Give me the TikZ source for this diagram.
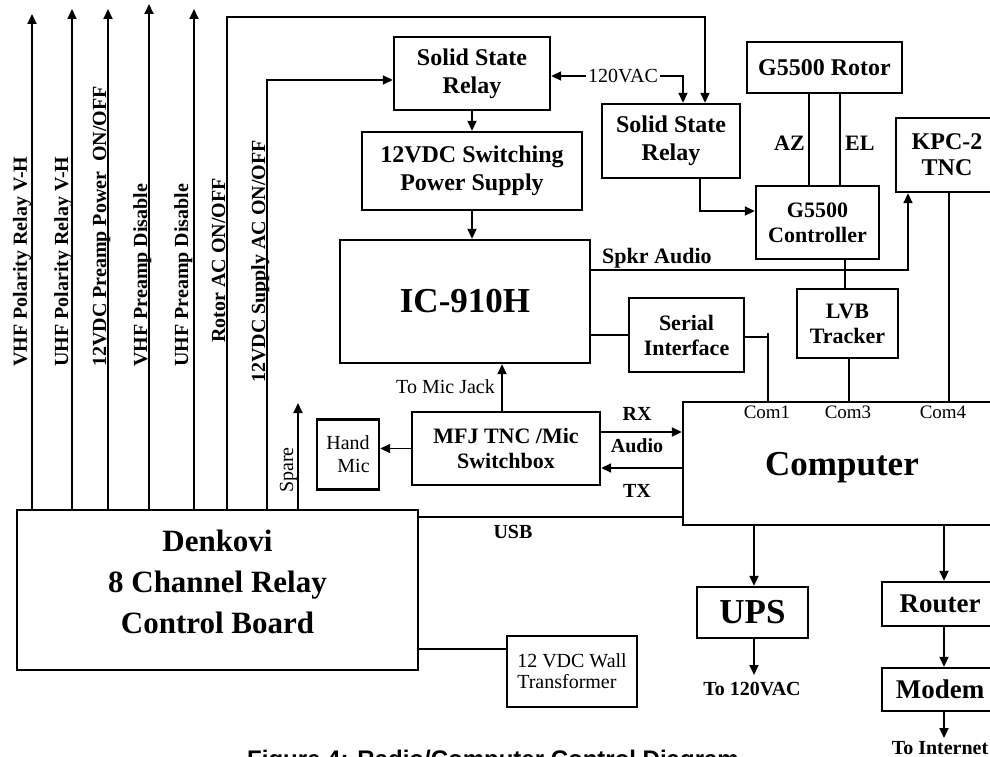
\documentclass[tikz,border=0pt]{standalone}
\usepackage{fontspec}
\setmainfont{Liberation Serif}
\newfontfamily\capfont{Liberation Sans}
\usetikzlibrary{arrows.meta}
\newcommand{\pxfont}[2]{\fontsize{#1}{#2}\selectfont}

\tikzset{
  blk/.style={draw, line width=2.4pt, inner sep=0pt, align=center, font=\bfseries\pxfont{22}{25}},
  wire/.style={line width=1.8pt},
  arr/.style={wire, -{Triangle[length=10pt,width=9pt]}},
  lbl/.style={inner sep=0pt, font=\bfseries\pxfont{20}{24}},
  txt/.style={inner sep=0pt, font=\pxfont{20}{23}},
  side/.style={lbl, rotate=90, anchor=base west},
}

\begin{document}
\begin{tikzpicture}[x=1pt, y=-1pt]
    \path[use as bounding box, fill=white] (0,0) rectangle (990,757);

    % boxes
    \node[blk, minimum width=401pt, minimum height=160pt, text depth=16pt, font=\bfseries\pxfont{31}{41}] (den) at (217.5,590) {Denkovi\\8 Channel Relay\\Control Board};
    \node[blk, minimum width=156pt, minimum height=73pt, font=\bfseries\pxfont{24}{28}] (ssrA) at (472,73.5) {Solid State\\Relay};
    \node[blk, minimum width=220pt, minimum height=78pt, font=\bfseries\pxfont{24}{28}] (psu) at (472,171) {12VDC Switching\\Power Supply};
    \node[blk, minimum width=250pt, minimum height=123pt, font=\bfseries\pxfont{35}{40}] (ic) at (465,301.5) {IC-910H};
    \node[blk, minimum width=138pt, minimum height=74pt, font=\bfseries\pxfont{24}{28}] (ssrB) at (671,141) {Solid State\\Relay};
    \node[blk, minimum width=155pt, minimum height=51pt, font=\bfseries\pxfont{24}{28}] (rotor) at (824.5,67.5) {G5500 Rotor};
    \node[blk, minimum width=123pt, minimum height=73pt] (ctrl) at (817.5,222.5) {G5500\\Controller};
    \node[blk, minimum width=102pt, minimum height=74pt, font=\bfseries\pxfont{24}{26}] (kpc) at (947,155) {KPC-2\\TNC};
    \node[blk, minimum width=115pt, minimum height=74pt] (serial) at (686.5,335) {Serial\\Interface};
    \node[blk, minimum width=101pt, minimum height=69pt] (lvb) at (847.5,323.5) {LVB\\Tracker};
    \node[blk, minimum width=188pt, minimum height=73pt] (mfj) at (506,448.5) {MFJ TNC /Mic\\Switchbox};
    \node[blk, minimum width=62pt, minimum height=70pt, align=right, font=\pxfont{20}{23}] (hand) at (348,454.5) {Hand\\Mic};
    \node[blk, minimum width=318pt, minimum height=123pt, text depth=0pt, font=\bfseries\pxfont{35}{40}] (comp) at (842,463.5) {Computer};
    \node[blk, minimum width=111pt, minimum height=51pt, font=\bfseries\pxfont{35}{40}] (ups) at (752.5,612.5) {UPS};
    \node[blk, minimum width=116pt, minimum height=44pt, font=\bfseries\pxfont{27}{30}] (router) at (940,604) {Router};
    \node[blk, minimum width=116pt, minimum height=43pt, font=\bfseries\pxfont{27}{30}] (modem) at (940,689.5) {Modem};
    \node[blk, minimum width=130pt, minimum height=71pt, align=left, font=\pxfont{20}{21}] (xfmr) at (572,671.5) {12 VDC Wall\\Transformer};

    % relay board outputs
    \node[side] (lVpol) at (27,367) {VHF Polarity Relay V-H};
    \node[side] (lUpol) at (68,367) {UHF Polarity Relay V-H};
    \node[side] (lPre) at (106,367) {12VDC Preamp Power\ \ ON/OFF};
    \node[side] (lVdis) at (147,367) {VHF Preamp Disable};
    \node[side] (lUdis) at (188,367) {UHF Preamp Disable};
    \node[side] (lRot) at (225,343) {Rotor AC ON/OFF};
    \node[side] (lSup) at (265,383) {12VDC Supply AC ON/OFF};
    \node[txt, rotate=90, anchor=base west] (lSpare) at (293,493) {Spare};
    \foreach \n/\x/\y in {tVpol/32/14, tUpol/72/9, tPre/108/9, tVdis/149/4, tUdis/194/9, tSpare/298/403} {
      \coordinate (\n) at (\x,\y);
      \draw[arr] (\n |- den.north) -- (\n);
    }
    \coordinate (rotTop) at (227,17);
    \coordinate (rotIn) at (705,17);
    \draw[arr] (rotTop |- den.north) -- (rotTop) -- (rotIn) -- (rotIn |- ssrB.north);
    \coordinate (supTop) at (267,80);
    \draw[arr] (supTop |- den.north) -- (supTop) -- (supTop -| ssrA.west);

    % mains feed
    \node[txt, inner xsep=2pt, anchor=west] (vac) at (586,76) {120VAC};
    \draw[arr] (vac.west) -- (vac.west -| ssrA.east);
    \coordinate (vacIn) at (683,76);
    \draw[arr] (vac.east) -- (vacIn) -- (vacIn |- ssrB.north);
    \draw[arr] (ssrA.south) -- (ssrA.south |- psu.north);
    \draw[arr] (psu.south) -- (psu.south |- ic.north);

    % rotor
    \coordinate (relOut) at (700,211);
    \draw[arr] (relOut |- ssrB.south) -- (relOut) -- (relOut -| ctrl.west);
    \coordinate (az) at (809,150);
    \coordinate (el) at (840,150);
    \draw[wire] (az |- rotor.south) -- (az |- ctrl.north);
    \draw[wire] (el |- rotor.south) -- (el |- ctrl.north);
    \node[lbl, font=\bfseries\pxfont{22}{25}, anchor=base east] (lAz) at (805,150) {AZ};
    \node[lbl, font=\bfseries\pxfont{22}{25}, anchor=base west] (lEl) at (845,150) {EL};
    \coordinate (trk) at (845,270);
    \draw[wire] (trk |- ctrl.south) -- (trk |- lvb.north);

    % com ports
    \coordinate (c1) at (768,337);
    \coordinate (c3) at (849,380);
    \coordinate (c4) at (949,380);
    \draw[wire] (serial.east |- c1) -- (c1);
    \draw[wire] ([yshift=4pt]c1) -- (c1 |- comp.north);
    \draw[wire] (c3 |- lvb.south) -- (c3 |- comp.north);
    \draw[wire] (c4 |- kpc.south) -- (c4 |- comp.north);
    \node[txt, font=\pxfont{19}{22}, anchor=base] (lC1) at (767,418) {Com1};
    \node[txt, font=\pxfont{19}{22}, anchor=base] (lC3) at (848,418) {Com3};
    \node[txt, font=\pxfont{19}{22}, anchor=base] (lC4) at (943,418) {Com4};

    % radio
    \coordinate (spk) at (908,270);
    \draw[arr] (ic.east |- spk) -- (spk) -- (spk |- kpc.south);
    \node[lbl, font=\bfseries\pxfont{22}{25}, anchor=base west] (lSpk) at (602,263) {Spkr Audio};
    \draw[wire] (serial.west) -- (serial.west -| ic.east);
    \coordinate (micJ) at (502,390);
    \draw[arr] (micJ |- mfj.north) -- (micJ |- ic.south);
    \node[txt, anchor=base east] (lMic) at (495,393) {To Mic Jack};
    \draw[arr] (mfj.west) -- (mfj.west -| hand.east);
    \coordinate (rx) at (640,432);
    \coordinate (tx) at (640,468);
    \draw[arr] (rx -| mfj.east) -- (rx -| comp.west);
    \draw[arr] (tx -| comp.west) -- (tx -| mfj.east);
    \node[lbl, anchor=base] (lRx) at (637,420) {RX};
    \node[lbl, anchor=base] (lAud) at (637,452) {Audio};
    \node[lbl, anchor=base] (lTx) at (637,497) {TX};

    % board links
    \coordinate (usb) at (513,517);
    \draw[wire] (usb -| den.east) -- (usb -| comp.west);
    \node[lbl, anchor=base] (lUsb) at (513,538) {USB};
    \coordinate (pwr) at (460,649);
    \draw[wire] (pwr -| den.east) -- (pwr -| xfmr.west);

    % power and network
    \coordinate (upsEnd) at (754,675);
    \draw[arr] (upsEnd |- comp.south) -- (upsEnd |- ups.north);
    \draw[arr] (upsEnd |- ups.south) -- (upsEnd);
    \node[lbl, anchor=base] (lMains) at (752,695) {To 120VAC};
    \coordinate (netEnd) at (944,738);
    \draw[arr] (netEnd |- comp.south) -- (netEnd |- router.north);
    \draw[arr] (netEnd |- router.south) -- (netEnd |- modem.north);
    \draw[arr] (netEnd |- modem.south) -- (netEnd);
    \node[lbl, anchor=base] (lNet) at (940,754) {To Internet};

    \node[inner sep=0pt, anchor=base west, font=\capfont\bfseries\pxfont{24}{28}] (caption) at (247,767) {Figure 4: Radio/Computer Control Diagram};
  \end{tikzpicture}
\end{document}
